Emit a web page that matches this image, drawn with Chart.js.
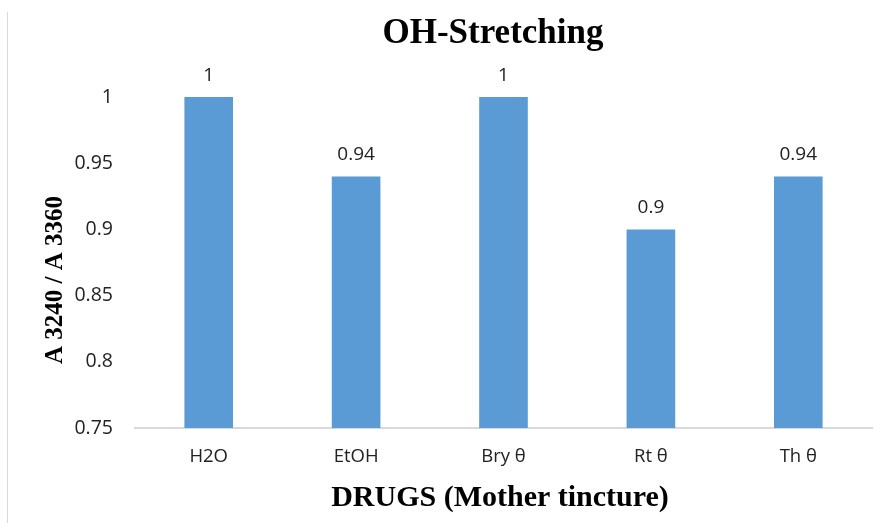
<!DOCTYPE html>
<html>
<head>
<meta charset="utf-8">
<script src="https://cdn.jsdelivr.net/npm/chart.js@4"></script>
<style>
  html, body { margin: 0; padding: 0; background: #fff; }
  #wrap { width: 893px; height: 523px; }
</style>
</head>
<body>
<div id="wrap"><canvas id="c" width="893" height="523"></canvas></div>
<script>
const categories = ['H2O', 'EtOH', 'Bry θ', 'Rt θ', 'Th θ'];
const ratios = [1, 0.94, 1, 0.9, 0.94];
const yTicks = [0.75, 0.8, 0.85, 0.9, 0.95, 1];

const chartTitle = 'OH-Stretching';
const xTitle = 'DRUGS (Mother tincture)';
const yTitle = 'A 3240 / A 3360';

const sansFamily = '"Open Sans", "Noto Sans", sans-serif';
const serifFamily = '"Liberation Serif", "Times New Roman", serif';
const textColor = '#222';

// Value labels above each bar
const valueLabels = {
  id: 'valueLabels',
  afterDatasetsDraw(chart) {
    const ctx = chart.ctx;
    const meta = chart.getDatasetMeta(0);
    ctx.save();
    ctx.font = `19px ${sansFamily}`;
    ctx.fillStyle = textColor;
    ctx.textAlign = 'center';
    ctx.textBaseline = 'alphabetic';
    meta.data.forEach((bar, i) => {
      ctx.fillText(String(ratios[i]), bar.x, bar.y - 16);
    });
    ctx.restore();
  }
};

// Chart title, axis titles and the thin left frame edge
const titles = {
  id: 'titles',
  beforeDraw(chart) {
    const ctx = chart.ctx;
    ctx.save();
    ctx.strokeStyle = '#d9d9d9';
    ctx.lineWidth = 1;
    ctx.beginPath();
    ctx.moveTo(7.5, 12);
    ctx.lineTo(7.5, 523);
    ctx.stroke();
    ctx.restore();
  },
  afterDraw(chart) {
    const ctx = chart.ctx;
    ctx.save();
    ctx.fillStyle = '#000';
    ctx.textAlign = 'center';
    ctx.textBaseline = 'alphabetic';

    ctx.font = `bold 35px ${serifFamily}`;
    ctx.fillText(chartTitle, 493, 43);

    ctx.font = `bold 30px ${serifFamily}`;
    ctx.fillText(xTitle, 500, 506);

    ctx.translate(62, 280);
    ctx.rotate(-Math.PI / 2);
    ctx.font = `bold 25px ${serifFamily}`;
    ctx.fillText(yTitle, 0, 0);
    ctx.restore();
  }
};

new Chart(document.getElementById('c'), {
  type: 'bar',
  data: {
    labels: categories,
    datasets: [{
      data: ratios,
      backgroundColor: '#5b9bd5',
      borderWidth: 0,
      categoryPercentage: 1,
      barPercentage: 0.33
    }]
  },
  options: {
    responsive: false,
    animation: false,
    devicePixelRatio: 1,
    layout: { padding: { left: 0, right: 21, top: 97, bottom: 0 } },
    plugins: {
      legend: { display: false },
      tooltip: { enabled: false },
      title: { display: false }
    },
    scales: {
      x: {
        grid: { display: false, drawTicks: false },
        border: { display: true, color: '#d9d9d9', width: 2 },
        ticks: { color: textColor, font: { family: sansFamily, size: 18.5 }, padding: 18 },
        afterFit(scale) { scale.height = 95; }
      },
      y: {
        min: 0.75,
        max: 1,
        afterBuildTicks(scale) { scale.ticks = yTicks.map(v => ({ value: v })); },
        grid: { display: false, drawTicks: false },
        border: { display: false },
        ticks: {
          color: textColor,
          font: { family: sansFamily, size: 19.5 },
          padding: 22,
          callback: (v) => String(Number(v.toFixed(2)))
        },
        afterFit(scale) { scale.width = 135; }
      }
    }
  },
  plugins: [valueLabels, titles]
});
</script>
</body>
</html>
